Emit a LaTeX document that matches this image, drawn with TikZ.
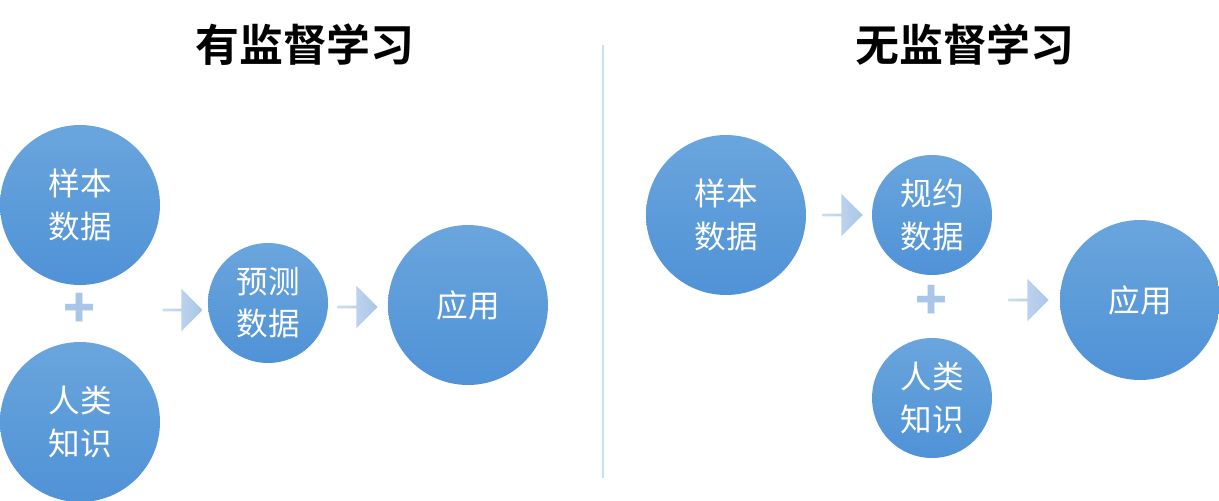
\documentclass[tikz,border=0pt]{standalone}
\usepackage{fontspec}
\setmainfont{Noto Sans CJK SC}
\newfontfamily\titlefont{Noto Sans CJK SC Bold}
\usetikzlibrary{shapes.arrows}
\definecolor{ballblue}{HTML}{4F92D6}
\definecolor{balltop}{HTML}{6AA5DD}
\definecolor{arrblue}{HTML}{A9C6E8}
\tikzset{
  ball/.style={circle, minimum size=#1, inner sep=0pt, top color=balltop, bottom color=ballblue,
    text=white, font=\fontsize{18}{24}\selectfont, align=center},
  blockarrow/.style={single arrow, minimum height=0.8cm, minimum width=0.85cm,
    single arrow head extend=0.1cm, inner sep=0pt, left color=arrblue!60, right color=arrblue},
  title/.style={font=\titlefont\fontsize{25}{30}\selectfont}
}
\begin{document}
\begin{tikzpicture}[x=0.02cm, y=-0.02cm]
\useasboundingbox (0,0) rectangle (1219,500);
\node[title] (t1) at (305,45) {有监督学习};
\node[title] (t2) at (965,45) {无监督学习};
\draw[color=ballblue!30, line width=1pt] (603,45) coordinate (d1) -- (603,478) coordinate (d2);
% left
\node[ball=3.2cm] (ls) at (80,205) {样本\\数据};
\node[ball=3.2cm] (lh) at (80,422) {人类\\知识};
\node[ball=2.4cm] (lp) at (268,303) {预测\\数据};
\node[ball=3.2cm] (la) at (468,305) {应用};
\node[text=arrblue, font=\fontsize{30}{30}\selectfont\bfseries] (lplus) at (80,310) {+};
\node[blockarrow] (la1) at (182,310) {};
\node[blockarrow] (la2) at (357,307) {};
% right
\node[ball=3.2cm] (rs) at (726,215) {样本\\数据};
\node[ball=2.4cm] (rr) at (932,215) {规约\\数据};
\node[ball=2.4cm] (rh) at (932,398) {人类\\知识};
\node[ball=3.2cm] (ra) at (1140,300) {应用};
\node[text=arrblue, font=\fontsize{30}{30}\selectfont\bfseries] (rplus) at (932,302) {+};
\node[blockarrow] (ra1) at (842,215) {};
\node[blockarrow] (ra2) at (1028,300) {};
\end{tikzpicture}
\end{document}
